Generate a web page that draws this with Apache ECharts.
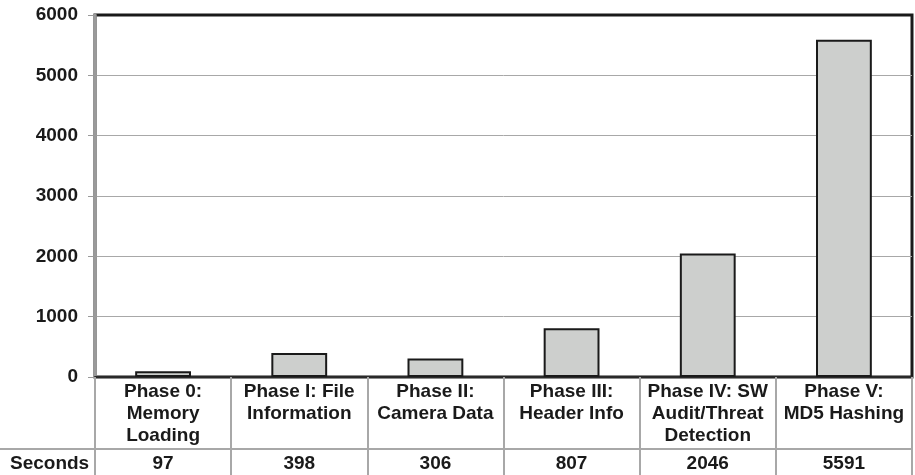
<!DOCTYPE html>
<html>
<head>
<meta charset="utf-8">
<script src="https://cdn.jsdelivr.net/npm/echarts@6/dist/echarts.min.js"></script>
<style>
  html, body { margin: 0; padding: 0; background: #fff; }
  #chart { width: 915px; height: 475px; }
</style>
</head>
<body>
<div id="chart"></div>
<script>
// phases along the bottom, seconds per phase
const categories = [
  'Phase 0:\nMemory\nLoading',
  'Phase I: File\nInformation',
  'Phase II:\nCamera Data',
  'Phase III:\nHeader Info',
  'Phase IV: SW\nAudit/Threat\nDetection',
  'Phase V:\nMD5 Hashing'
];
const seconds = [97, 398, 306, 807, 2046, 5591];
const rowLabel = 'Seconds';
const yMin = 0, yMax = 6000, yStep = 1000;

const font = '"Liberation Sans", Arial, sans-serif';
const gridLeft = 95, gridTop = 15, gridRight = 3, gridBottom = 98;
const headerRow = 72;   // height of category cells
const tableGray = '#a8a8a8';

const chart = echarts.init(document.getElementById('chart'));

const option = {
  animation: false,
  grid: {
    left: gridLeft, top: gridTop, right: gridRight, bottom: gridBottom,
    show: true, borderColor: '#1a1a1a', borderWidth: 3
  },
  xAxis: [
    {
      type: 'category',
      data: categories,
      boundaryGap: true,
      axisLine: { lineStyle: { color: '#2a2a2a', width: 2 } },
      axisTick: { show: true, length: gridBottom, alignWithLabel: false,
                  lineStyle: { color: tableGray, width: 2 } },
      axisLabel: {
        interval: 0, margin: 4, color: '#1a1a1a', fontFamily: font,
        fontWeight: 'bold', fontSize: 19, lineHeight: 22, align: 'center'
      }
    },
    {
      type: 'category',
      data: categories,
      position: 'bottom',
      offset: headerRow,
      axisLine: { show: true, lineStyle: { color: tableGray, width: 2 } },
      axisTick: { show: false },
      axisLabel: {
        interval: 0, margin: 4, color: '#1a1a1a', fontFamily: font,
        fontWeight: 'bold', fontSize: 19, lineHeight: 22,
        formatter: (v, i) => String(seconds[i])
      }
    }
  ],
  yAxis: {
    type: 'value',
    min: yMin, max: yMax, interval: yStep,
    axisLine: { show: true, lineStyle: { color: '#9a9a9a', width: 3.5 } },
    axisTick: { show: true, length: 7, lineStyle: { color: '#9a9a9a', width: 1 } },
    splitLine: { show: true, showMaxLine: false, lineStyle: { color: '#a8a8a8', width: 1 } },
    axisLabel: {
      margin: 17, color: '#1a1a1a', fontFamily: font,
      fontWeight: 'bold', fontSize: 19,
      formatter: v => String(v)
    }
  },
  series: [{
    type: 'bar',
    data: seconds,
    barWidth: '41%',
    itemStyle: { color: '#cdcfcd', borderColor: '#1a1a1a', borderWidth: 2 }
  }],
  graphic: [
    {
      type: 'line',
      shape: { x1: 0, y1: 475 - gridBottom + headerRow, x2: gridLeft, y2: 475 - gridBottom + headerRow },
      style: { stroke: tableGray, lineWidth: 2 }
    },
    {
      type: 'text',
      left: 10,
      top: 475 - gridBottom + headerRow + 4,
      style: { text: rowLabel, font: 'bold 19px ' + font, fill: '#1a1a1a',
               lineHeight: 22 }
    }
  ]
};

chart.setOption(option);
</script>
</body>
</html>
